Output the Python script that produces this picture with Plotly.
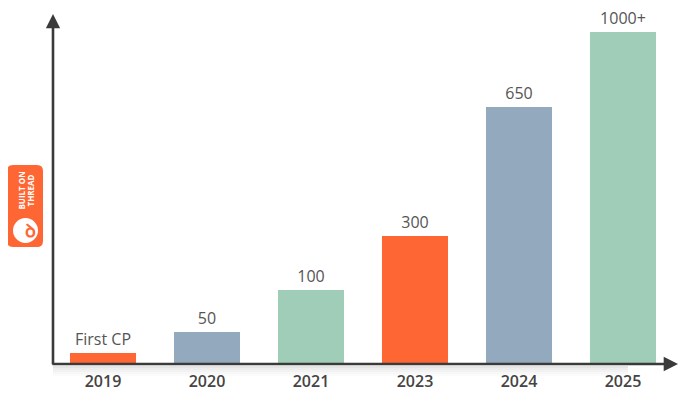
import plotly.graph_objects as go

# Data
years = ["2019", "2020", "2021", "2023", "2024", "2025"]
labels = ["First CP", "50", "100", "300", "650", "1000+"]
# display heights of the bars as drawn (not proportional to labels)
bar_heights = [11, 32, 74, 128, 257, 332]
colors = ["#FE6634", "#93A9BE", "#A0CDB7", "#FE6634", "#93A9BE", "#A0CDB7"]

FONT = "Open Sans"

fig = go.Figure()
fig.add_trace(go.Bar(
    x=years, y=bar_heights, text=labels, textposition="outside",
    marker=dict(color=colors, line=dict(width=0)),
    textfont=dict(family=FONT, size=16, color="#555555", weight=500),
    cliponaxis=False, hoverinfo="skip",
))

fig.update_layout(
    width=700, height=402,
    margin=dict(l=45, r=30, t=6, b=46, autoexpand=False),
    paper_bgcolor="white", plot_bgcolor="white",
    bargap=0.365, showlegend=False,
    xaxis=dict(type="category", range=[-0.481, 5.529], showgrid=False, zeroline=False,
               showline=False, ticks="outside", ticklen=3, tickcolor="rgba(0,0,0,0)",
               tickfont=dict(family=FONT, size=16, color="#444444", weight=600)),
    yaxis=dict(range=[0, 350], showgrid=False, zeroline=False, showline=False,
               showticklabels=False, ticks=""),
)

# shadow under x axis
for i, op in enumerate([0.10, 0.07, 0.05, 0.03, 0.015]):
    fig.add_shape(type="rect", xref="paper", yref="paper", x0=0.0, x1=0.92,
                  y0=-(2 + 2 * i) / 350, y1=-(2 + 2 * (i + 1)) / 350,
                  fillcolor=f"rgba(0,0,0,{op})", line=dict(width=0), layer="below")

# axes with arrows
fig.add_annotation(x=0, y=1, xref="paper", yref="paper", ax=0, ay=352,
                   showarrow=True, arrowhead=2, arrowsize=1.1, arrowwidth=2.6,
                   arrowcolor="#3a3a3a", text="")
fig.add_annotation(x=1, y=0, xref="paper", yref="paper", ax=-627, ay=0,
                   showarrow=True, arrowhead=2, arrowsize=1.1, arrowwidth=2.6,
                   arrowcolor="#3a3a3a", text="")

# "Built on Thread" badge (window pixel -> paper conversion)
PW, PH, L, T = 625, 350, 53, 14
def px(xp):
    return (xp - L) / PW
def py(yp):
    return (T + PH - yp) / PH

x0, x1, y0, y1, r = 7, 43, 165, 247, 6
path = (f"M {px(x0+r)},{py(y0)} L {px(x1-r)},{py(y0)} "
        f"Q {px(x1)},{py(y0)} {px(x1)},{py(y0+r)} L {px(x1)},{py(y1-r)} "
        f"Q {px(x1)},{py(y1)} {px(x1-r)},{py(y1)} L {px(x0+r)},{py(y1)} "
        f"Q {px(x0)},{py(y1)} {px(x0)},{py(y1-r)} L {px(x0)},{py(y0+r)} "
        f"Q {px(x0)},{py(y0)} {px(x0+r)},{py(y0)} Z")
fig.add_shape(type="path", xref="paper", yref="paper", path=path,
              fillcolor="#FE6634", line=dict(width=0))
fig.add_shape(type="circle", xref="paper", yref="paper",
              x0=px(13), x1=px(38), y0=py(243), y1=py(218),
              fillcolor="white", line=dict(width=0))
fig.add_annotation(x=px(23), y=py(230), xref="paper", yref="paper", text="<b>ꝺ</b>",
                   showarrow=False, font=dict(family="DejaVu Sans", size=18, color="#FE6634"))
fig.add_annotation(x=px(13), y=py(191), xref="paper", yref="paper",
                   text="BUILT ON", textangle=-90, showarrow=False,
                   font=dict(family=FONT, size=8, color="white", weight=700))
fig.add_annotation(x=px(22), y=py(191), xref="paper", yref="paper",
                   text="THREAD", textangle=-90, showarrow=False,
                   font=dict(family=FONT, size=8, color="white", weight=700))

fig.write_html("out.html")
